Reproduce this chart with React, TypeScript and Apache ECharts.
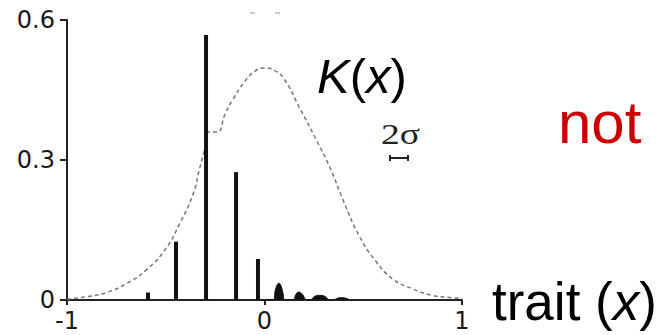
import React, { useEffect, useRef } from "react";
import * as echarts from "echarts";

// axis ticks
const xTicks = [-1, 0, 1];
const yTicks = [0, 0.3, 0.6];

// population spikes (trait value, frequency)
const spikeX = [-0.59, -0.448, -0.296, -0.144, -0.033];
const spikeY = [0.016, 0.125, 0.568, 0.274, 0.088];

// small humps to the right of 0
const humpX = [-0.02, 0.043, 0.055, 0.066, 0.073, 0.082, 0.093, 0.104, 0.144, 0.16, 0.175, 0.19, 0.215, 0.23, 0.255, 0.28, 0.305, 0.33, 0.347, 0.37, 0.39, 0.41, 0.433];
const humpY = [0, 0, 0.022, 0.034, 0.036, 0.032, 0.016, 0, 0, 0.013, 0.017, 0.013, 0, 0, 0.008, 0.01, 0.008, 0, 0, 0.004, 0.005, 0.004, 0];

// carrying capacity K(x) (left branch, kink at the big spike, right branch)
const kLeftX = [-1, -0.9, -0.8, -0.7, -0.6, -0.5, -0.43, -0.36, -0.33, -0.298];
const kLeftY = [0.002, 0.007, 0.016, 0.035, 0.064, 0.11, 0.163, 0.229, 0.279, 0.33];
const kRightX = [-0.296, -0.24, -0.2, -0.16, -0.1, -0.05, 0, 0.05, 0.1, 0.18, 0.26, 0.33, 0.4, 0.48, 0.56, 0.65, 0.75, 0.85, 0.95, 1];
const kRightY = [0.36, 0.36, 0.398, 0.43, 0.468, 0.49, 0.497, 0.492, 0.473, 0.41, 0.345, 0.285, 0.212, 0.137, 0.085, 0.045, 0.024, 0.01, 0.005, 0.003];

export default function App() {
  const ref = useRef<HTMLDivElement>(null);
  useEffect(() => {
    if (!ref.current) return;
    const chart = echarts.init(ref.current, null, { renderer: "svg" });
    const axisCol = "#222";
    const kStyle = { color: "#777", width: 1.5, type: [4, 3] };
    chart.setOption({
      animation: false,
      backgroundColor: "#fff",
      grid: { left: 67, right: 195, top: 20, bottom: 35, containLabel: false },
      xAxis: {
        type: "value",
        min: xTicks[0],
        max: xTicks[xTicks.length - 1],
        interval: xTicks[1] - xTicks[0],
        splitLine: { show: false },
        axisLine: { show: true, onZero: false, lineStyle: { color: axisCol, width: 2 } },
        axisTick: { show: true, length: 5, lineStyle: { color: axisCol, width: 2 } },
        axisLabel: { color: "#1a1a1a", fontFamily: "DejaVu Sans", fontSize: 24, margin: 9 },
      },
      yAxis: {
        type: "value",
        min: yTicks[0],
        max: yTicks[yTicks.length - 1],
        interval: yTicks[1] - yTicks[0],
        splitLine: { show: false },
        axisLine: { show: true, onZero: false, lineStyle: { color: axisCol, width: 2 } },
        axisTick: { show: true, length: 7, lineStyle: { color: axisCol, width: 2 } },
        axisLabel: { color: "#1a1a1a", fontFamily: "DejaVu Sans", fontSize: 24, margin: 12 },
      },
      series: [
        {
          type: "line",
          data: kLeftX.map((x, i) => [x, kLeftY[i]]),
          smooth: 0.5,
          symbol: "none",
          lineStyle: kStyle,
          z: 2,
        },
        {
          type: "line",
          data: kRightX.map((x, i) => [x, kRightY[i]]),
          smooth: 0.5,
          symbol: "none",
          lineStyle: kStyle,
          z: 2,
        },
        {
          type: "bar",
          data: spikeX.map((x, i) => [x, spikeY[i]]),
          barWidth: 4,
          itemStyle: { color: "#111" },
          z: 3,
        },
        {
          type: "line",
          data: humpX.map((x, i) => [x, humpY[i]]),
          smooth: 0.4,
          symbol: "none",
          lineStyle: { color: "#111", width: 1 },
          areaStyle: { color: "#111", opacity: 1 },
          z: 3,
        },
      ],
      graphic: [
        {
          type: "text",
          x: 317,
          y: 76,
          style: {
            text: "{i|K}{n|(}{i|x}{n|)}",
            verticalAlign: "middle",
            align: "left",
            rich: {
              i: { fontFamily: "Liberation Sans", fontSize: 49, fontStyle: "italic", fill: "#000" },
              n: { fontFamily: "Liberation Sans", fontSize: 49, fill: "#000" },
            },
          },
        },
        {
          type: "text",
          x: 381,
          y: 134,
          scaleX: 1.25,
          style: {
            text: "2σ",
            fontFamily: "Liberation Serif",
            fontSize: 30,
            fill: "#222",
            verticalAlign: "middle",
            align: "left",
          },
        },
        { type: "line", shape: { x1: 390, y1: 158, x2: 408, y2: 158 }, style: { stroke: "#222", lineWidth: 2 } },
        { type: "line", shape: { x1: 390, y1: 155, x2: 390, y2: 161 }, style: { stroke: "#222", lineWidth: 2 } },
        { type: "line", shape: { x1: 408, y1: 155, x2: 408, y2: 161 }, style: { stroke: "#222", lineWidth: 2 } },
        { type: "line", shape: { x1: 250, y1: 13, x2: 255, y2: 13 }, style: { stroke: "#999", lineWidth: 1 } },
        { type: "line", shape: { x1: 275, y1: 13, x2: 280, y2: 13 }, style: { stroke: "#999", lineWidth: 1 } },
        {
          type: "text",
          x: 558,
          y: 122,
          style: {
            text: "not",
            fontFamily: "Liberation Sans",
            fontSize: 60,
            fill: "#cc0000",
            verticalAlign: "middle",
            align: "left",
          },
        },
        {
          type: "text",
          x: 492,
          y: 301,
          style: {
            text: "{n|trait (}{i|x}{n|)}",
            verticalAlign: "middle",
            align: "left",
            rich: {
              i: { fontFamily: "Liberation Sans", fontSize: 53, fontStyle: "italic", fill: "#000" },
              n: { fontFamily: "Liberation Sans", fontSize: 53, fill: "#000" },
            },
          },
        },
      ],
    });
    return () => chart.dispose();
  }, []);
  return (
    <div
      ref={ref}
      style={{ position: "absolute", left: 0, top: 0, width: 657, height: 335 }}
    />
  );
}
